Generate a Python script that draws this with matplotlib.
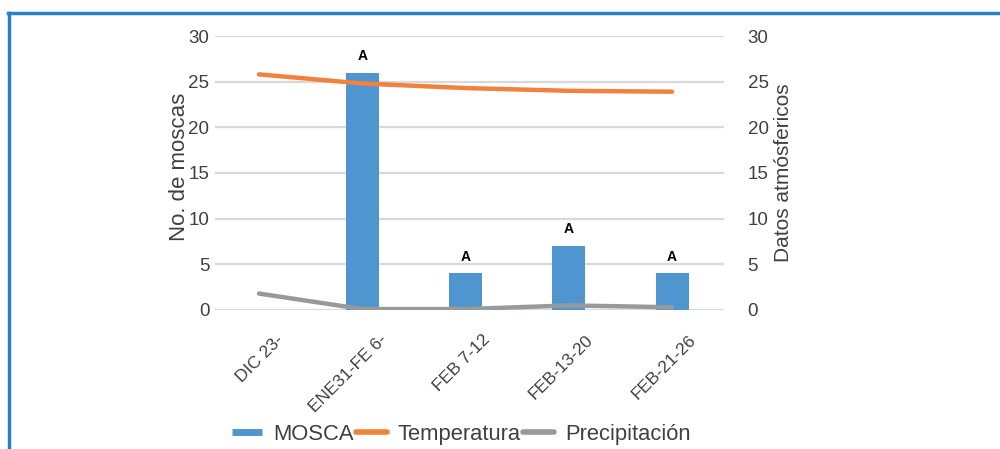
import matplotlib.pyplot as plt
import matplotlib.transforms as mtransforms
import numpy as np
from matplotlib.lines import Line2D

# data
categorias = ["DIC 23-", "ENE31-FE 6-", "FEB 7-12", "FEB-13-20", "FEB-21-26"]
mosca = [0, 26, 4, 7, 4]
temperatura = [25.8, 24.8, 24.3, 24.0, 23.9]
precipitacion = [1.8, 0.1, 0.1, 0.5, 0.3]
letras = ["", "A", "A", "A", "A"]
yticks = [0, 5, 10, 15, 20, 25, 30]

c_bar = "#4f96d1"
c_temp = "#f0823c"
c_prec = "#969a9b"
c_txt = "#404040"

plt.rcParams["font.family"] = ["Liberation Sans", "DejaVu Sans"]

fig = plt.figure(figsize=(10, 4.49), dpi=100)
ax = fig.add_axes([0.215, 0.3096, 0.509, 0.6102])
ax2 = ax.twinx()

x = np.arange(len(categorias))
ax.bar(x, mosca, width=0.32, color=c_bar, zorder=2)
for xi, v, l in zip(x, mosca, letras):
    if l:
        ax.annotate(l, (xi, v), xytext=(0, 7), textcoords="offset points",
                    ha="center", va="bottom", fontsize=10, fontweight="bold", color="black")

ax2.plot(x, temperatura, color=c_temp, lw=3.2, solid_capstyle="round", zorder=3)
ax2.plot(x, precipitacion, color=c_prec, lw=3.2, solid_capstyle="round", zorder=3)

for a in (ax, ax2):
    a.set_ylim(0, 30)
    a.set_yticks(yticks)
    a.set_xlim(-0.426, 4.503)
    for s in a.spines.values():
        s.set_visible(False)
    a.tick_params(length=0, labelsize=13.5, labelcolor=c_txt)

ax.grid(axis="y", color="#d9d9d9", lw=1.6, zorder=0)
ax.set_axisbelow(True)
ax.tick_params(axis="y", pad=4)
ax2.tick_params(axis="y", pad=17)
ax.set_xticks(x)
ax.set_xticklabels(categorias, rotation=45, ha="right", rotation_mode="anchor", fontsize=12.5)
ax.tick_params(axis="x", pad=16)
shift = mtransforms.ScaledTranslation(12 / 72, 0, fig.dpi_scale_trans)
for lab in ax.get_xticklabels():
    lab.set_transform(lab.get_transform() + shift)

ax.set_ylabel("No. de moscas", fontsize=16, color=c_txt)
ax.yaxis.set_label_coords(-0.05, 0.522)
ax2.set_ylabel("Datos atmósfericos", fontsize=15, color=c_txt, labelpad=4)

handles = [
    Line2D([], [], color=c_bar, lw=5, solid_capstyle="butt"),
    Line2D([], [], color=c_temp, lw=4, solid_capstyle="round"),
    Line2D([], [], color=c_prec, lw=4, solid_capstyle="round"),
]
fig.legend(handles, ["MOSCA", "Temperatura", "Precipitación"], loc="center",
           bbox_to_anchor=(0.461, 0.032), ncol=3, frameon=False, fontsize=15.8,
           handlelength=1.4, handletextpad=0.5, columnspacing=0.1,
           labelcolor=c_txt)

# blue frame along top and left edge
fig.add_artist(Line2D([0.008, 1.0], [1 - 13 / 449, 1 - 13 / 449], color="#2a80c6", lw=2.5))
fig.add_artist(Line2D([0.0085, 0.0085], [0.0, 1 - 13 / 449], color="#2a80c6", lw=2.5))

fig.savefig("out.png", dpi=100)
